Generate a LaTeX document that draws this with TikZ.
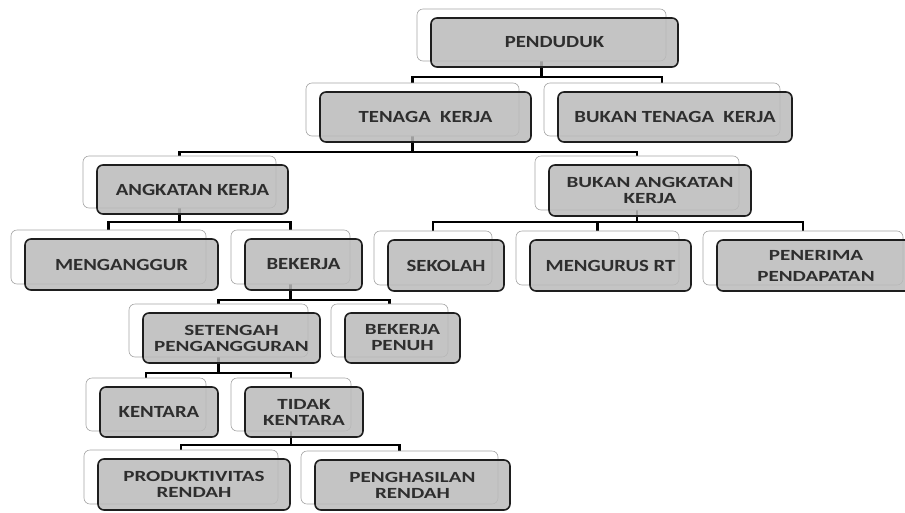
\documentclass[tikz,border=0pt]{standalone}
\usepackage{fontspec}
\newfontfamily\boxfont{Carlito}[FakeStretch=1.22]
\newfontfamily\twofont{Carlito}[FakeStretch=1.36]
\usetikzlibrary{fit}
\definecolor{frontfill}{RGB}{186,186,186}
\definecolor{frontline}{RGB}{30,30,30}
\definecolor{backline}{RGB}{165,165,165}
\pgfdeclarelayer{bg}
\pgfsetlayers{bg,main}
\tikzset{
  backbox/.style={draw=backline, line width=0.6pt, fill=white, rounded corners=6pt, inner sep=0pt},
  frontbox/.style={draw=frontline, line width=1.6pt, fill=frontfill, fill opacity=0.85, rounded corners=6pt, inner sep=0pt},
  boxtext/.style={font=\boxfont\bfseries\fontsize{17}{18}\selectfont, align=center, text=black!82, inner sep=0pt},
  twotext/.style={boxtext, font=\twofont\bfseries\fontsize{15.5}{16}\selectfont},
  conn/.style={draw=black, line width=2.8pt},
}
\newcommand\orgbox[7][boxtext]{%
  \node[backbox, fit={(#3-14,#4-9) (#5-12,#6-6)}] (#2b) {};
  \node[frontbox, fit={(#3,#4) (#5,#6)}] (#2) {};
  \node[#1] (#2t) at (#2.center) {#7};
}
\begin{document}
\begin{tikzpicture}[x=1pt,y=-1pt]
\useasboundingbox (0,0) rectangle (905,512);
\orgbox{pend}{431}{18}{678}{67}{PENDUDUK}
\orgbox{tk}{320}{92}{531}{142}{TENAGA\ \ KERJA}
\orgbox{btk}{558}{92}{792}{142}{BUKAN TENAGA\ \ KERJA}
\orgbox{ak}{97}{165}{288}{214}{ANGKATAN KERJA}
\orgbox[twotext]{bak}{549}{165}{751}{216}{BUKAN ANGKATAN\\KERJA}
\orgbox{meng}{25}{239}{218}{290}{MENGANGGUR}
\orgbox{bek}{245}{239}{362}{290}{BEKERJA}
\orgbox{sek}{388}{240}{504}{291}{SEKOLAH}
\orgbox{mrt}{530}{240}{691}{291}{MENGURUS RT}
\orgbox[twotext]{pen}{717}{240}{915}{291}{PENERIMA\\[5pt]PENDAPATAN}
\orgbox[twotext]{set}{143}{313}{320}{363}{SETENGAH\\PENGANGGURAN}
\orgbox[twotext]{bp}{345}{313}{460}{363}{BEKERJA\\PENUH}
\orgbox{ken}{100}{387}{218}{437}{KENTARA}
\orgbox[twotext]{tid}{245}{387}{363}{437}{TIDAK\\KENTARA}
\orgbox[twotext]{prod}{98}{459}{290}{510}{PRODUKTIVITAS\\RENDAH}
\orgbox[twotext]{peng}{315}{460}{510}{510}{PENGHASILAN\\RENDAH}
\begin{pgfonlayer}{bg}
  \coordinate (j0) at (pendb.center |- 0,77);
  \coordinate (j1) at (tkb.center |- 0,152);
  \coordinate (j2) at (akb.center |- 0,222);
  \coordinate (j3) at (bakb.center |- 0,222);
  \coordinate (j4) at (bekb.center |- 0,300);
  \coordinate (j5) at (setb.center |- 0,373);
  \coordinate (j6) at (tidb.center |- 0,445);
  \draw[conn] (pendb.center) -- (j0);
  \draw[conn] (tkb.north) |- (j0) -| (btkb.north);
  \draw[conn] (tkb.center) -- (j1);
  \draw[conn] (akb.north) |- (j1) -| (bakb.north);
  \draw[conn] (akb.center) -- (j2);
  \draw[conn] (mengb.north) |- (j2) -| (bekb.north);
  \draw[conn] (bakb.center) -- (j3);
  \draw[conn] (sekb.north) |- (j3) -| (penb.north);
  \draw[conn] (j3) -| (mrtb.north);
  \draw[conn] (bekb.center) -- (j4);
  \draw[conn] (setb.north) |- (j4) -| (bpb.north);
  \draw[conn] (setb.center) -- (j5);
  \draw[conn] (kenb.north) |- (j5) -| (tidb.north);
  \draw[conn] (tidb.center) -- (j6);
  \draw[conn] (prodb.north) |- (j6) -| (pengb.north);
\end{pgfonlayer}
\end{tikzpicture}
\end{document}
